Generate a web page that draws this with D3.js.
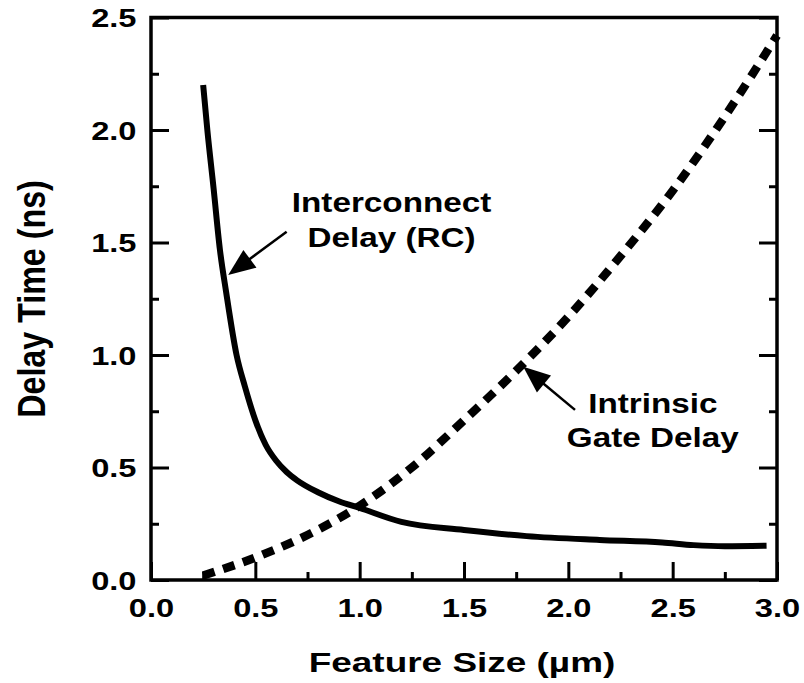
<!DOCTYPE html>
<html>
<head>
<meta charset="utf-8">
<script src="https://cdn.jsdelivr.net/npm/d3@7"></script>
<style>
  html, body { margin: 0; padding: 0; background: #fff; }
  svg { display: block; }
  text { font-family: "Liberation Sans", Arial, Helvetica, sans-serif; font-weight: bold; fill: #000; }
</style>
</head>
<body>
<svg id="chart" width="804" height="683"></svg>
<script>
// ---------- data ----------
const xMajorTicks = [0.0, 0.5, 1.0, 1.5, 2.0, 2.5, 3.0];
const xMinorTicks = [0.25, 0.75, 1.25, 1.75, 2.25, 2.75];
const yMajorTicks = [0.0, 0.5, 1.0, 1.5, 2.0, 2.5];
const yMinorTicks = [0.25, 0.75, 1.25, 1.75, 2.25];

const interconnectX = [0.25, 0.27, 0.30, 0.33, 0.36, 0.41, 0.45, 0.50, 0.55, 0.60, 0.65, 0.70, 0.80, 0.90, 1.00, 1.20, 1.50, 1.80, 2.15, 2.45, 2.60, 2.75, 2.95];
const interconnectY = [2.20, 2.00, 1.74, 1.47, 1.28, 1.00, 0.86, 0.71, 0.60, 0.53, 0.48, 0.443, 0.39, 0.35, 0.32, 0.258, 0.222, 0.195, 0.178, 0.167, 0.155, 0.150, 0.152];

const gateX = [0.25, 0.50, 0.75, 1.00, 1.25, 1.50, 1.75, 2.00, 2.25, 2.50, 2.75, 3.00];
const gateY = [0.02, 0.10, 0.20, 0.33, 0.50, 0.71, 0.93, 1.17, 1.44, 1.73, 2.06, 2.42];

const xTitle = "Feature Size (µm)";
const yTitle = "Delay Time (ns)";
const interconnectLabel = ["Interconnect", "Delay (RC)"];
const gateLabel = ["Intrinsic", "Gate Delay"];
// annotation anchor points in data units: [text x, first baseline y, second baseline y], arrow [tailX, tailY, tipX, tipY]
const interconnectText = [1.153, 1.637, 1.481];
const interconnectArrow = [0.65, 1.548, 0.37, 1.356];
const gateText = [2.405, 0.741, 0.592];
const gateArrow = [2.032, 0.756, 1.784, 0.948];

// ---------- layout ----------
const L = 151, R = 777, T = 17.5, B = 580;
const svg = d3.select("#chart");
const x = d3.scaleLinear().domain([0, 3]).range([L, R]);
const y = d3.scaleLinear().domain([0, 2.5]).range([B, T]);
const fmt = d3.format(".1f");

// axes (ticks inward)
function styleAxis(g) {
  g.select(".domain").remove();
  g.selectAll(".tick line").attr("stroke", "#000").attr("stroke-width", 3);
}
const gLeft = svg.append("g").attr("transform", `translate(${L},0)`)
  .call(d3.axisLeft(y).tickValues(yMajorTicks).tickSizeInner(-18).tickSizeOuter(0).tickFormat(fmt))
  .call(styleAxis);
gLeft.selectAll(".tick text")
  .attr("x", null).attr("dy", null)
  .attr("transform", "translate(-14.5,9) scale(1.28,1)")
  .attr("text-anchor", "end")
  .style("font-size", "25.5px");
svg.append("g").attr("transform", `translate(${L},0)`)
  .call(d3.axisLeft(y).tickValues(yMinorTicks).tickSizeInner(-8).tickSizeOuter(0).tickFormat(""))
  .call(styleAxis);
svg.append("g").attr("transform", `translate(${R},0)`)
  .call(d3.axisRight(y).tickValues(yMajorTicks).tickSizeInner(-18).tickSizeOuter(0).tickFormat(""))
  .call(styleAxis);
svg.append("g").attr("transform", `translate(${R},0)`)
  .call(d3.axisRight(y).tickValues(yMinorTicks).tickSizeInner(-8).tickSizeOuter(0).tickFormat(""))
  .call(styleAxis);
const gBottom = svg.append("g").attr("transform", `translate(0,${B})`)
  .call(d3.axisBottom(x).tickValues(xMajorTicks).tickSizeInner(-18).tickSizeOuter(0).tickFormat(fmt))
  .call(styleAxis);
gBottom.selectAll(".tick text")
  .attr("y", null).attr("dy", null)
  .attr("transform", "translate(0,37) scale(1.28,1)")
  .attr("text-anchor", "middle")
  .style("font-size", "25.5px");
svg.append("g").attr("transform", `translate(0,${B})`)
  .call(d3.axisBottom(x).tickValues(xMinorTicks).tickSizeInner(-8).tickSizeOuter(0).tickFormat(""))
  .call(styleAxis);

// frame
svg.append("rect")
  .attr("x", x(0)).attr("y", y(2.5))
  .attr("width", x(3) - x(0)).attr("height", y(0) - y(2.5))
  .attr("fill", "none").attr("stroke", "#000").attr("stroke-width", 3.5);

// curves
const line = d3.line().x(d => x(d[0])).y(d => y(d[1])).curve(d3.curveMonotoneX);
svg.append("path")
  .datum(interconnectX.map((v, i) => [v, interconnectY[i]]))
  .attr("d", line)
  .attr("fill", "none").attr("stroke", "#000").attr("stroke-width", 6)
  .attr("stroke-linecap", "butt").attr("stroke-linejoin", "round");
svg.append("path")
  .datum(gateX.map((v, i) => [v, gateY[i]]))
  .attr("d", line)
  .attr("fill", "none").attr("stroke", "#000").attr("stroke-width", 8.5)
  .attr("stroke-dasharray", "12,9")
  .attr("stroke-linecap", "butt");

// arrows
function arrow(a) {
  const x1 = x(a[0]), y1 = y(a[1]), x2 = x(a[2]), y2 = y(a[3]);
  const dx = x2 - x1, dy = y2 - y1, len = Math.hypot(dx, dy);
  const ux = dx / len, uy = dy / len, px = -uy, py = ux;
  const hl = 27, hw = 11;
  const bx = x2 - ux * hl, by = y2 - uy * hl;
  svg.append("line").attr("x1", x1).attr("y1", y1).attr("x2", bx + ux * 4).attr("y2", by + uy * 4)
    .attr("stroke", "#000").attr("stroke-width", 2.5);
  svg.append("polygon")
    .attr("points", [[x2, y2], [bx + px * hw, by + py * hw], [bx - px * hw, by - py * hw]].map(p => p.join(",")).join(" "))
    .attr("fill", "#000");
}
arrow(interconnectArrow);
arrow(gateArrow);

// annotation text
function label(lines, pos, sx) {
  lines.forEach((s, i) => {
    svg.append("text")
      .attr("transform", `translate(${x(pos[0])},${y(pos[i + 1])}) scale(${sx},1)`)
      .attr("text-anchor", "middle")
      .style("font-size", "27.5px")
      .text(s);
  });
}
label(interconnectLabel, interconnectText, 1.21);
label(gateLabel, gateText, 1.21);

// axis titles
svg.append("text")
  .attr("transform", `translate(${(L + R) / 2 - 2},672) scale(1.32,1)`)
  .attr("text-anchor", "middle")
  .style("font-size", "28px")
  .text(xTitle);
svg.append("text")
  .attr("transform", `translate(45,299) rotate(-90) scale(1.04,1.27)`)
  .attr("text-anchor", "middle")
  .style("font-size", "31px")
  .text(yTitle);
</script>
</body>
</html>
